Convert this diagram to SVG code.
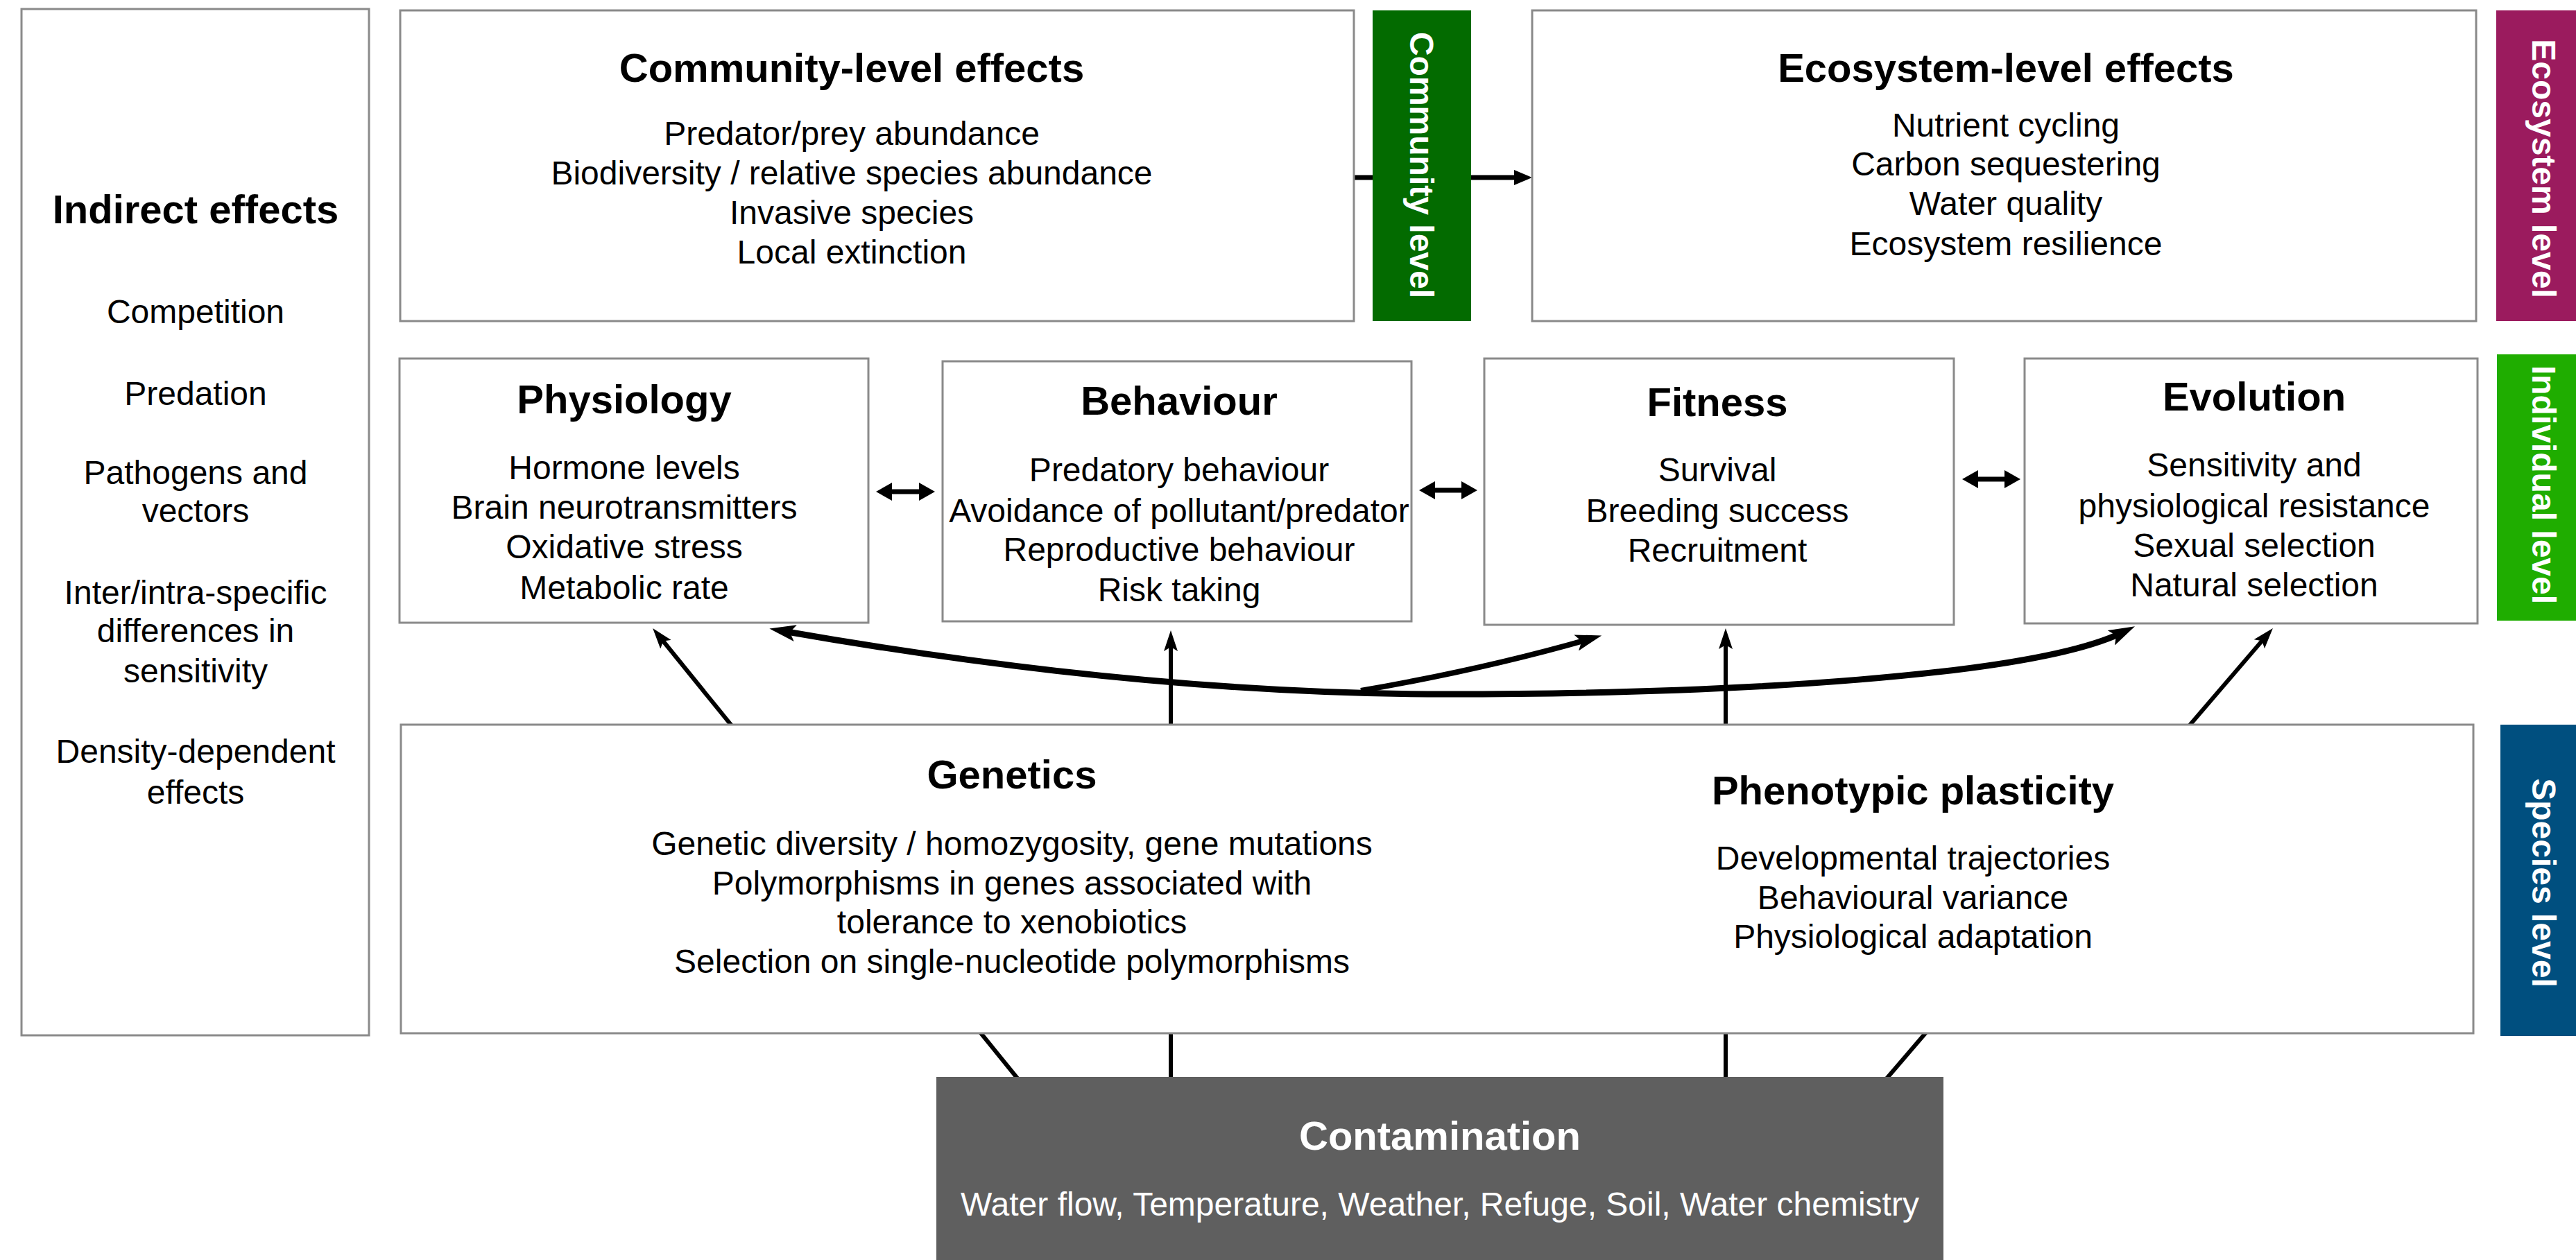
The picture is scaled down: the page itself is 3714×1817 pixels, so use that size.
<svg xmlns="http://www.w3.org/2000/svg" width="3714" height="1817" viewBox="0 0 3714 1817">
<style>
.box{fill:#fff;stroke:#8a8a8a;stroke-width:3}
text{font-family:"Liberation Sans",Arial,Helvetica,sans-serif;text-anchor:middle;fill:#000}
.h{font-size:58px;font-weight:bold}
.b{font-size:48px}
.bar{font-size:48px;font-weight:bold;fill:#fff}
.wt{fill:#fff}
.c{fill:none;stroke:#000;stroke-linecap:butt}
.thin{stroke-width:6}
.thick{stroke-width:9}
.mid{stroke-width:7}
.br{stroke-width:8}
</style>
<defs>
<marker id="headThin" markerUnits="userSpaceOnUse" viewBox="0 0 30 20" markerWidth="30" markerHeight="20" refX="10" refY="10" orient="auto"><path d="M0,0 L30,10 L0,20 L6,10 z" fill="#000"/></marker>
<marker id="headThick" markerUnits="userSpaceOnUse" viewBox="0 0 38 24" markerWidth="38" markerHeight="24" refX="18" refY="12" orient="auto-start-reverse"><path d="M0,0 L38,12 L0,24 L8,12 z" fill="#000"/></marker>
<marker id="headMed" markerUnits="userSpaceOnUse" viewBox="0 0 26 22" markerWidth="26" markerHeight="22" refX="6" refY="11" orient="auto"><path d="M0,0 L26,11 L0,22 z" fill="#000"/></marker>
<marker id="headBi" markerUnits="userSpaceOnUse" viewBox="0 0 23 26" markerWidth="23" markerHeight="26" refX="13" refY="13" orient="auto-start-reverse"><path d="M0,0 L23,13 L0,26 z" fill="#000"/></marker>
</defs>

<g id="connectors">
<line class="c mid" x1="1952" y1="256" x2="2189" y2="256" marker-end="url(#headMed)"/>
<line class="c thin" x1="1471" y1="1560" x2="953.7" y2="921.5" marker-end="url(#headThin)"/>
<line class="c thin" x1="1688" y1="1560" x2="1688" y2="929" marker-end="url(#headThin)"/>
<line class="c thin" x1="2488" y1="1560" x2="2488" y2="926" marker-end="url(#headThin)"/>
<line class="c thin" x1="2716" y1="1560" x2="3263.9" y2="921.1" marker-end="url(#headThin)"/>
<path class="c thick" d="M1129,910 Q1647,1001 2085,1001 C2500,1001 2930,975 3060,912" marker-start="url(#headThick)" marker-end="url(#headThick)"/>
<path class="c br" d="M1962,996 Q2140,965 2290,922" marker-end="url(#headThick)"/>
<line class="c mid" x1="1273" y1="709" x2="1338" y2="709" marker-start="url(#headBi)" marker-end="url(#headBi)"/>
<line class="c mid" x1="2056" y1="707" x2="2120" y2="707" marker-start="url(#headBi)" marker-end="url(#headBi)"/>
<line class="c mid" x1="2839" y1="691" x2="2903" y2="691" marker-start="url(#headBi)" marker-end="url(#headBi)"/>
</g>

<g id="indirect">
<rect class="box" x="31" y="13" width="501" height="1480"/>
<text class="h" x="282" y="322">Indirect effects</text>
<text class="b" x="282" y="466">Competition</text>
<text class="b" x="282" y="584">Predation</text>
<text class="b" x="282" y="698">Pathogens and</text>
<text class="b" x="282" y="753">vectors</text>
<text class="b" x="282" y="871">Inter/intra-specific</text>
<text class="b" x="282" y="926">differences in</text>
<text class="b" x="282" y="984">sensitivity</text>
<text class="b" x="282" y="1100">Density-dependent</text>
<text class="b" x="282" y="1159">effects</text>
</g>

<g id="community">
<rect class="box" x="577" y="15" width="1375" height="448"/>
<text class="h" x="1228" y="118">Community-level effects</text>
<text class="b" x="1228" y="209">Predator/prey abundance</text>
<text class="b" x="1228" y="266">Biodiversity / relative species abundance</text>
<text class="b" x="1228" y="323">Invasive species</text>
<text class="b" x="1228" y="380">Local extinction</text>
</g>

<g id="community-level">
<rect x="1979" y="15" width="142" height="448" fill="#036b00"/>
<text class="bar" transform="translate(2033,238) rotate(90)">Community level</text>
</g>

<g id="ecosystem">
<rect class="box" x="2209" y="15" width="1361" height="448"/>
<text class="h" x="2892" y="118">Ecosystem-level effects</text>
<text class="b" x="2892" y="197">Nutrient cycling</text>
<text class="b" x="2892" y="253">Carbon sequestering</text>
<text class="b" x="2892" y="310">Water quality</text>
<text class="b" x="2892" y="368">Ecosystem resilience</text>
</g>

<g id="ecosystem-level">
<rect x="3599" y="15" width="115" height="448" fill="#9b1b5e"/>
<text class="bar" transform="translate(3651,243) rotate(90)">Ecosystem level</text>
</g>

<g id="physiology">
<rect class="box" x="576" y="517" width="676" height="381"/>
<text class="h" x="900" y="596">Physiology</text>
<text class="b" x="900" y="691">Hormone levels</text>
<text class="b" x="900" y="748">Brain neurotransmitters</text>
<text class="b" x="900" y="805">Oxidative stress</text>
<text class="b" x="900" y="864">Metabolic rate</text>
</g>

<g id="behaviour">
<rect class="box" x="1359" y="521" width="676" height="375"/>
<text class="h" x="1700" y="598">Behaviour</text>
<text class="b" x="1700" y="694">Predatory behaviour</text>
<text class="b" x="1700" y="753">Avoidance of pollutant/predator</text>
<text class="b" x="1700" y="809">Reproductive behaviour</text>
<text class="b" x="1700" y="867">Risk taking</text>
</g>

<g id="fitness">
<rect class="box" x="2140" y="517" width="677" height="384"/>
<text class="h" x="2476" y="600">Fitness</text>
<text class="b" x="2476" y="694">Survival</text>
<text class="b" x="2476" y="753">Breeding success</text>
<text class="b" x="2476" y="810">Recruitment</text>
</g>

<g id="evolution">
<rect class="box" x="2919" y="517" width="653" height="382"/>
<text class="h" x="3250" y="592">Evolution</text>
<text class="b" x="3250" y="687">Sensitivity and</text>
<text class="b" x="3250" y="746">physiological resistance</text>
<text class="b" x="3250" y="803">Sexual selection</text>
<text class="b" x="3250" y="860">Natural selection</text>
</g>

<g id="individual-level">
<rect x="3600" y="511" width="114" height="384" fill="#1fad00"/>
<text class="bar" transform="translate(3651,699) rotate(90)">Individual level</text>
</g>

<g id="species">
<rect class="box" x="578" y="1045" width="2988" height="445"/>
<text class="h" x="1459" y="1137">Genetics</text>
<text class="b" x="1459" y="1233">Genetic diversity / homozygosity, gene mutations</text>
<text class="b" x="1459" y="1290">Polymorphisms in genes associated with</text>
<text class="b" x="1459" y="1346">tolerance to xenobiotics</text>
<text class="b" x="1459" y="1403">Selection on single-nucleotide polymorphisms</text>
<text class="h" x="2758" y="1160">Phenotypic plasticity</text>
<text class="b" x="2758" y="1254">Developmental trajectories</text>
<text class="b" x="2758" y="1311">Behavioural variance</text>
<text class="b" x="2758" y="1367">Physiological adaptation</text>
</g>

<g id="species-level">
<rect x="3605" y="1045" width="109" height="449" fill="#004f7f"/>
<text class="bar" transform="translate(3651,1273) rotate(90)">Species level</text>
</g>

<g id="contamination">
<rect x="1350" y="1553" width="1452" height="264" fill="#5f5f5f"/>
<text class="h wt" x="2076" y="1658">Contamination</text>
<text class="b wt" x="2076" y="1753">Water flow, Temperature, Weather, Refuge, Soil, Water chemistry</text>
</g>
</svg>
